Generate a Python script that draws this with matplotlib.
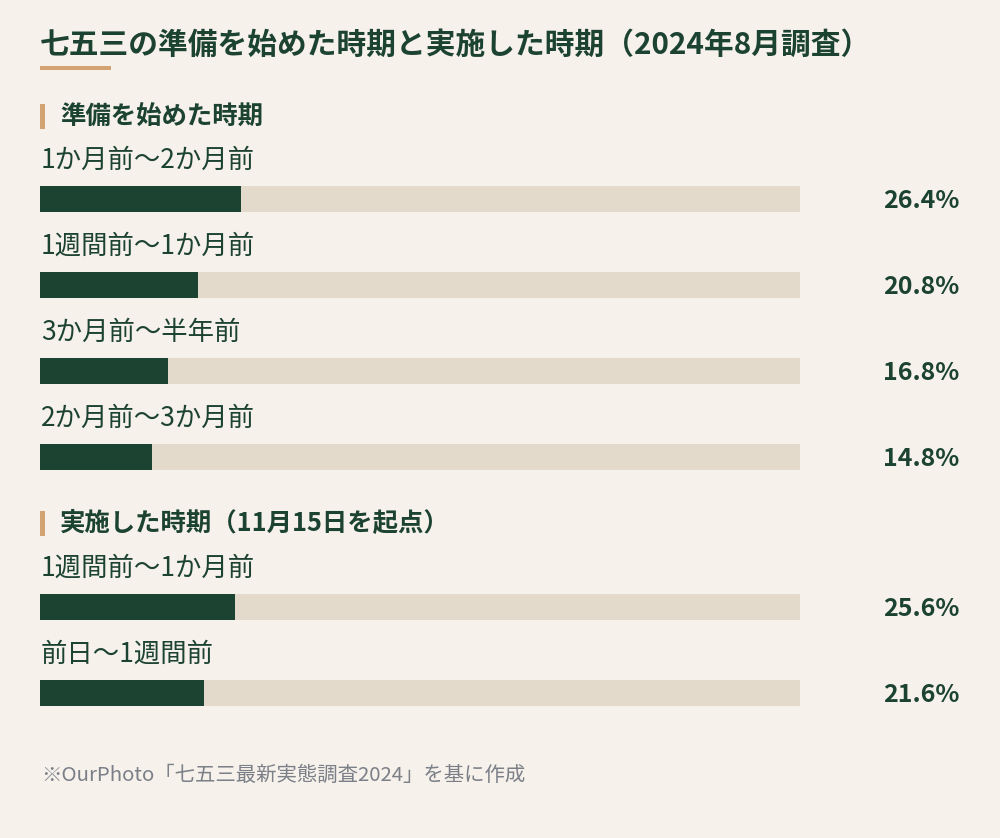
import matplotlib.pyplot as plt
from matplotlib.patches import Rectangle
from matplotlib.transforms import blended_transform_factory

plt.rcParams['font.family'] = ['Noto Sans CJK JP', 'DejaVu Sans']

title = "七五三の準備を始めた時期と実施した時期（2024年8月調査）"
footer = "※OurPhoto「七五三最新実態調査2024」を基に作成"

prep_title = "準備を始めた時期"
prep_labels = ["1か月前～2か月前", "1週間前～1か月前", "3か月前～半年前", "2か月前～3か月前"]
prep_values = [26.4, 20.8, 16.8, 14.8]

done_title = "実施した時期（11月15日を起点）"
done_labels = ["1週間前～1か月前", "前日～1週間前"]
done_values = [25.6, 21.6]

BG = "#F6F1EA"
DARK = "#1C4332"
TRACK = "#E3DACB"
ACCENT = "#D4A373"
GRAY = "#7B7F88"

W, H = 1000, 838
fig = plt.figure(figsize=(W / 100, H / 100), dpi=100, facecolor=BG)


def fx(x):
    return x / W


def fy(y):
    return 1 - y / H


# title + underline
fig.text(fx(40), fy(45), title, fontsize=21.4, fontweight="bold", color=DARK,
         ha="left", va="center")
fig.patches.append(Rectangle((fx(40), fy(70)), fx(71), 4 / H, transform=fig.transFigure,
                             facecolor=ACCENT, edgecolor="none"))


def section(head, head_y, labels, values, top):
    # header with accent bar
    fig.patches.append(Rectangle((fx(40), fy(head_y + 12)), fx(5), 25 / H,
                                 transform=fig.transFigure, facecolor=ACCENT, edgecolor="none"))
    fig.text(fx(60), fy(head_y), head, fontsize=18.3, fontweight="bold", color=DARK,
             ha="left", va="center")

    n = len(values)
    row = 86
    ax = fig.add_axes([fx(40), fy(top + n * row), fx(760), n * row / H])
    ax.set_facecolor("none")
    ys = list(range(n))
    ax.barh(ys, [100] * n, height=26 / row, color=TRACK, edgecolor="none")
    ax.barh(ys, values, height=26 / row, color=DARK, edgecolor="none")
    ax.set_xlim(0, 100)
    ax.set_ylim(n - 0.5, -0.5)
    ax.axis("off")

    tr = blended_transform_factory(fig.transFigure, ax.transData)
    for y, lab, v in zip(ys, labels, values):
        ax.text(fx(41), y - 0.45, lab, transform=tr, fontsize=19, color=DARK,
                ha="left", va="center", clip_on=False)
        ax.text(fx(959), y + 0.02, f"{v:.1f}%", transform=tr, fontsize=18,
                fontweight="bold", color=DARK, ha="right", va="center", clip_on=False)


section(prep_title, 117, prep_labels, prep_values, 156)
section(done_title, 524, done_labels, done_values, 564)

fig.text(fx(41), fy(775), footer, fontsize=14.7, color=GRAY, ha="left", va="center")

fig.savefig("out.png", dpi=100, facecolor=BG)
